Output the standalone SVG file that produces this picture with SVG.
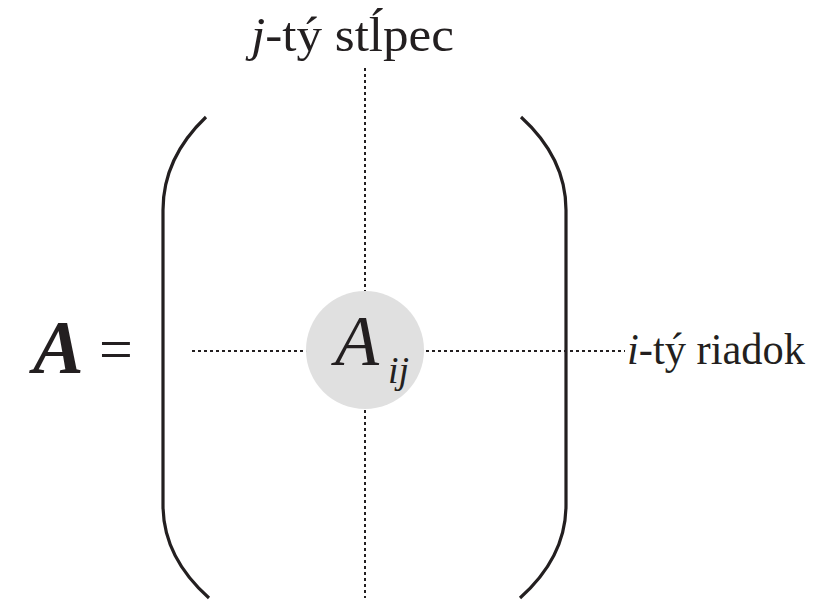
<svg xmlns="http://www.w3.org/2000/svg" width="824" height="603" viewBox="0 0 824 603">
<style>
text{fill:#231f20}
.br{fill:none;stroke:#231f20;stroke-width:3.2}
.dot{fill:none;stroke:#231f20;stroke-width:2;stroke-dasharray:3 3}
</style>
<rect width="824" height="603" fill="#fff"/>
<g id="connectors">
<line class="dot" x1="365" y1="68" x2="365" y2="598"/>
<line class="dot" x1="192" y1="351" x2="625" y2="351"/>
</g>
<g id="brackets">
<path class="br" d="M206,117 Q163,158 163,210 L163,505 Q163,557 209,598"/>
<path class="br" d="M521,117 Q566,158 566,210 L566,505 Q566,557 520,598"/>
</g>
<g font-family="Liberation Serif, DejaVu Serif, serif">
<g id="node-aij">
<circle cx="365" cy="350" r="59" fill="#e0e0e0"/>
<text x="335" y="365" font-size="72" font-style="italic">A</text>
<text x="388" y="383" font-size="38" font-style="italic">ij</text>
</g>
<g id="label-A">
<text x="33" y="373" font-size="76" font-style="italic" font-weight="bold">A</text>
<text x="99" y="369" font-size="60">=</text>
</g>
<g id="label-col">
<text x="251" y="51" font-size="48" textLength="203" lengthAdjust="spacingAndGlyphs"><tspan font-style="italic">j</tspan>-tý stĺpec</text>
</g>
<g id="label-row">
<text x="627" y="364" font-size="45" textLength="178" lengthAdjust="spacingAndGlyphs"><tspan font-style="italic">i</tspan>-tý riadok</text>
</g>
</g>
</svg>
